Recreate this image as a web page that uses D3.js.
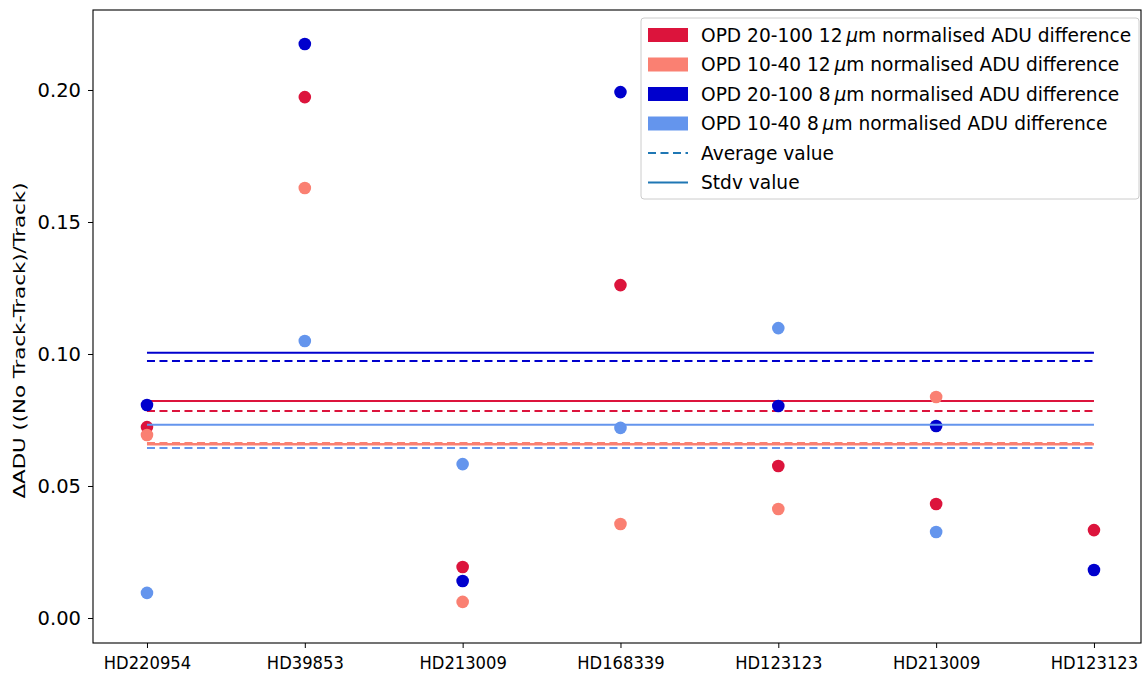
<!DOCTYPE html>
<html>
<head>
<meta charset="utf-8">
<script src="https://cdn.jsdelivr.net/npm/d3@7"></script>
<style>
  body { margin: 0; background: #fff; }
  text { font-family: "DejaVu Sans", sans-serif; fill: #000; }
</style>
</head>
<body>
<svg id="chart"></svg>
<script>
// Data
const stars = ["HD220954", "HD39853", "HD213009", "HD168339", "HD123123", "HD213009", "HD123123"];

const opd20_100_12um = [0.0723, 0.1973, 0.0193, 0.1261, 0.0576, 0.0432, 0.0333];
const opd10_40_12um  = [0.0693, 0.1629, 0.0061, 0.0356, 0.0413, 0.0837, null];
const opd20_100_8um  = [0.0807, 0.2174, 0.0140, 0.1992, 0.0803, 0.0727, 0.0182];
const opd10_40_8um   = [0.0095, 0.1049, 0.0583, 0.0720, 0.1098, 0.0326, null];

// average (dashed) and stdv (solid) reference lines
const averages = [0.0784, 0.0662, 0.0973, 0.0644];
const stdvs    = [0.0822, 0.0658, 0.1005, 0.0732];

const yTicks = [0.00, 0.05, 0.10, 0.15, 0.20];

// legend labels: [prefix, suffix], the micro sign goes between them
const seriesNames = [
    ["OPD 20-100 12", "m normalised ADU difference"],
    ["OPD 10-40 12", "m normalised ADU difference"],
    ["OPD 20-100 8", "m normalised ADU difference"],
    ["OPD 10-40 8", "m normalised ADU difference"]
];
const colors = ["#DC143C", "#FA8072", "#0000CD", "#6495ED"];
const seriesValues = [opd20_100_12um, opd10_40_12um, opd20_100_8um, opd10_40_8um];

const width = 1148, height = 680;
const margin = { top: 10, right: 7, bottom: 37, left: 93 };

const svg = d3.select("#chart")
    .attr("width", width)
    .attr("height", height);

const x = d3.scaleLinear()
    .domain([-0.342, 6.298])
    .range([margin.left, width - margin.right]);

const y = d3.scaleLinear()
    .domain([-0.00947, 0.2303])
    .range([height - margin.bottom, margin.top]);

const plot = svg.append("g");

// Draw each series: points, then its average and stdv lines
seriesValues.forEach((vals, i) => {
    const pts = vals.map((v, j) => ({ j, v })).filter(d => d.v !== null);
    plot.append("g").selectAll("circle")
        .data(pts)
        .join("circle")
        .attr("cx", d => x(d.j))
        .attr("cy", d => y(d.v))
        .attr("r", 6.3)
        .attr("fill", colors[i]);

    const lineW = i === 1 ? 2.6 : 2;
    plot.append("line")
        .attr("x1", x(0)).attr("x2", x(stars.length - 1))
        .attr("y1", y(averages[i])).attr("y2", y(averages[i]))
        .attr("stroke", colors[i])
        .attr("stroke-width", lineW)
        .attr("stroke-dasharray", "8,4.5");

    plot.append("line")
        .attr("x1", x(0)).attr("x2", x(stars.length - 1))
        .attr("y1", y(stdvs[i])).attr("y2", y(stdvs[i]))
        .attr("stroke", colors[i])
        .attr("stroke-width", lineW);
});

// Axes
const xAxis = svg.append("g")
    .attr("transform", `translate(0,${height - margin.bottom})`)
    .call(d3.axisBottom(x)
        .tickValues(d3.range(stars.length))
        .tickFormat(i => stars[i])
        .tickSize(5)
        .tickSizeOuter(0));

const yAxis = svg.append("g")
    .attr("transform", `translate(${margin.left},0)`)
    .call(d3.axisLeft(y)
        .tickValues(yTicks)
        .tickFormat(d3.format(".2f"))
        .tickSize(5)
        .tickSizeOuter(0));

[xAxis, yAxis].forEach(g => {
    g.select(".domain").remove();
    g.selectAll("line").attr("stroke", "#000").attr("stroke-width", 1);
    g.selectAll("text").attr("fill", "#000");
});
xAxis.selectAll("text")
    .attr("dy", "1.0em")
    .style("font-family", "'DejaVu Sans Condensed', 'DejaVu Sans', sans-serif")
    .style("font-stretch", "condensed")
    .style("font-size", "18.2px");
yAxis.selectAll("text")
    .attr("x", -12)
    .style("font-family", "'DejaVu Sans', sans-serif")
    .style("font-size", "19.5px");

// Frame
svg.append("rect")
    .attr("x", margin.left)
    .attr("y", margin.top)
    .attr("width", width - margin.left - margin.right)
    .attr("height", height - margin.top - margin.bottom)
    .attr("fill", "none")
    .attr("stroke", "#000")
    .attr("stroke-width", 1.1);

// Y label
svg.append("text")
    .attr("transform", `translate(25,${(margin.top + height - margin.bottom) / 2 + 14}) rotate(-90)`)
    .attr("text-anchor", "middle")
    .attr("textLength", 316)
    .attr("lengthAdjust", "spacingAndGlyphs")
    .style("font-family", "'DejaVu Sans Condensed', 'DejaVu Sans', sans-serif")
    .style("font-stretch", "condensed")
    .style("font-size", "16px")
    .text("\u0394ADU ((No Track-Track)/Track)");

// Legend
const legend = svg.append("g").attr("transform", "translate(641,18)");
legend.append("rect")
    .attr("width", 498).attr("height", 181)
    .attr("rx", 3)
    .attr("fill", "#fff").attr("fill-opacity", 0.85)
    .attr("stroke", "#ccc");

const rowY = i => 17 + i * 29.5;
const legendFont = "18.6px";
seriesNames.forEach((name, i) => {
    legend.append("rect")
        .attr("x", 7).attr("y", rowY(i) - 7)
        .attr("width", 40).attr("height", 14)
        .attr("fill", colors[i]);
    const t = legend.append("text")
        .attr("x", 60).attr("y", rowY(i))
        .attr("dy", "0.35em")
        .style("font-size", legendFont);
    t.append("tspan").text(name[0] + "\u2009");
    t.append("tspan").style("font-style", "italic").text("\u03bc");
    t.append("tspan").text(name[1]);
});

const refColor = "#1f77b4";
legend.append("line")
    .attr("x1", 7).attr("x2", 47)
    .attr("y1", rowY(4)).attr("y2", rowY(4))
    .attr("stroke", refColor).attr("stroke-width", 2)
    .attr("stroke-dasharray", "8,4.5");
legend.append("text")
    .attr("x", 60).attr("y", rowY(4)).attr("dy", "0.35em")
    .style("font-size", legendFont)
    .text("Average value");
legend.append("line")
    .attr("x1", 7).attr("x2", 47)
    .attr("y1", rowY(5)).attr("y2", rowY(5))
    .attr("stroke", refColor).attr("stroke-width", 2);
legend.append("text")
    .attr("x", 60).attr("y", rowY(5)).attr("dy", "0.35em")
    .style("font-size", legendFont)
    .text("Stdv value");
</script>
</body>
</html>
